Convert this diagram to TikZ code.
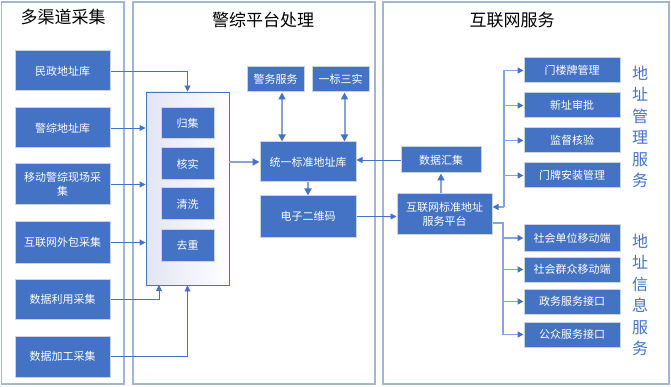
\documentclass[tikz,border=0pt]{standalone}
\usepackage{fontspec}
\newfontfamily\cjk{Noto Sans CJK SC}
\usetikzlibrary{arrows.meta}
\definecolor{boxblue}{RGB}{68,114,196}
\definecolor{panelc}{RGB}{160,182,210}
\definecolor{linec}{RGB}{135,163,215}
\definecolor{edgec}{RGB}{205,210,222}
\definecolor{shadec}{RGB}{226,229,244}
\begin{document}
\begin{tikzpicture}[x=1pt,y=-1pt,
  panel/.style={draw=panelc,line width=1.5pt},
  title/.style={font=\cjk\fontsize{17}{19}\selectfont,text=black,inner sep=0pt},
  box/.style={fill=boxblue,draw=edgec,line width=1pt,text=white,font=\cjk\fontsize{11}{14}\selectfont,inner sep=0pt,align=center},
  side/.style={text=boxblue,font=\cjk\fontsize{16}{21.5}\selectfont,align=center,inner sep=0pt},
  thinarr/.style={draw=boxblue,line width=0.9pt,-{Triangle[length=6pt,width=6pt]}},
  thickarr/.style={draw=linec,line width=2pt,-{Triangle[length=7pt,width=7pt,color=boxblue]}},
  dblarr/.style={draw=linec,line width=2pt,{Triangle[length=7pt,width=7pt,color=boxblue]}-{Triangle[length=7pt,width=7pt,color=boxblue]}},
  brline/.style={draw=linec,line width=1.5pt},
  brarr/.style={draw=linec,line width=1.5pt,-{Triangle[length=6pt,width=6pt,color=boxblue]}}
]
\useasboundingbox (0,0) rectangle (671,387);
% panels
\draw[panel] (1.5,2) rectangle (124,384);
\draw[panel] (133,2) rectangle (375,384);
\draw[panel] (383,2) rectangle (669,384);
\node[title] (t1) at (63,17) {多渠道采集};
\node[title] (t2) at (263,20) {警综平台处理};
\node[title] (t3) at (512,20) {互联网服务};
% left boxes
\node[box,minimum width=95pt,minimum height=40pt] (n1) at (62.5,71) {民政地址库};
\node[box,minimum width=95pt,minimum height=40pt] (n2) at (62.5,128) {警综地址库};
\node[box,minimum width=95pt,minimum height=41pt] (n3) at (62.5,184.5) {移动警综现场采\\集};
\node[box,minimum width=95pt,minimum height=41pt] (n4) at (62.5,242.5) {互联网外包采集};
\node[box,minimum width=95pt,minimum height=40pt] (n5) at (62.5,299) {数据利用采集};
\node[box,minimum width=95pt,minimum height=41pt] (n6) at (62.5,356.5) {数据加工采集};
% container
\node[draw=boxblue,line width=0.9pt,minimum width=83pt,minimum height=193pt,inner sep=0pt,
  shade,shading angle=135,left color=shadec,right color=white] (proc) at (187.5,188.5) {};
\node[box,minimum width=53pt,minimum height=31pt] (g1) at (187.5,123.5) {归集};
\node[box,minimum width=53pt,minimum height=32pt] (g2) at (187.5,164) {核实};
\node[box,minimum width=53pt,minimum height=32pt] (g3) at (187.5,204) {清洗};
\node[box,minimum width=53pt,minimum height=32pt] (g4) at (187.5,245) {去重};
\coordinate (pin5) at (159,285);
% left arrows
\draw[thinarr] (n1.east) -| (proc.north);
\draw[thinarr] (n2.east) -- (n2.east -| proc.west);
\draw[thinarr] (n3.east) -- (n3.east -| proc.west);
\draw[thinarr] (n4.east) -- (n4.east -| proc.west);
\draw[thinarr] (n5.east) -| (pin5);
\draw[thinarr] (n6.east) -| (proc.south);
% middle
\node[box,minimum width=57pt,minimum height=25pt] (ws) at (275.5,79.5) {警务服务};
\node[box,minimum width=57pt,minimum height=25pt] (ybs) at (340.5,79.5) {一标三实};
\node[box,minimum width=96pt,minimum height=40pt] (uni) at (308,162) {统一标准地址库};
\node[box,minimum width=96pt,minimum height=41pt] (qr) at (308,216.5) {电子二维码};
\draw[dblarr] ([xshift=6.5pt]ws.south) -- ([xshift=6.5pt]ws.south |- uni.north);
\draw[dblarr] ([xshift=4pt]ybs.south) -- ([xshift=4pt]ybs.south |- uni.north);
\draw[thickarr] (proc.east |- uni.west) -- (uni.west);
\draw[thickarr] (uni.south) -- (qr.north);
% right
\node[box,minimum width=95pt,minimum height=40pt] (plat) at (444.5,214) {互联网标准地址\\服务平台};
\node[box,minimum width=80pt,minimum height=26pt] (hj) at (441,160) {数据汇集};
\draw[thinarr] (qr.east) -- (qr.east -| plat.west);
\draw[thickarr] (hj.south |- plat.north) -- (hj.south);
\draw[thinarr] (hj.west) -- (hj.west -| uni.east);
\node[box,minimum width=96pt,minimum height=25pt] (m1) at (572,70.5) {门楼牌管理};
\node[box,minimum width=96pt,minimum height=25pt] (m2) at (572,105.5) {新址审批};
\node[box,minimum width=96pt,minimum height=25pt] (m3) at (572,140.5) {监督核验};
\node[box,minimum width=96pt,minimum height=25pt] (m4) at (572,175.5) {门牌安装管理};
\node[box,minimum width=96pt,minimum height=26pt] (s1) at (572,238) {社会单位移动端};
\node[box,minimum width=96pt,minimum height=25pt] (s2) at (572,269.5) {社会群众移动端};
\node[box,minimum width=96pt,minimum height=25pt] (s3) at (572,301.5) {政务服务接口};
\node[box,minimum width=96pt,minimum height=25pt] (s4) at (572,334.5) {公众服务接口};
\coordinate (jt) at (504,207);
\coordinate (jb) at (503,223);
\draw[brline] (m1.west -| jt) -- (jt);
\draw[brarr] (jt) -- (jt -| plat.east);
\draw[brarr] (m1.west -| jt) -- (m1.west);
\draw[brarr] (m2.west -| jt) -- (m2.west);
\draw[brarr] (m3.west -| jt) -- (m3.west);
\draw[brarr] (m4.west -| jt) -- (m4.west);
\draw[brline] (plat.east |- jb) -- (jb) -- (jb |- s4.west);
\draw[brarr] (jb |- s1.west) -- (s1.west);
\draw[brarr] (jb |- s2.west) -- (s2.west);
\draw[brarr] (jb |- s3.west) -- (s3.west);
\draw[brarr] (jb |- s4.west) -- (s4.west);
\node[side] (v1) at (640,127) {地\\址\\管\\理\\服\\务};
\node[side] (v2) at (640,295) {地\\址\\信\\息\\服\\务};
\end{tikzpicture}
\end{document}
